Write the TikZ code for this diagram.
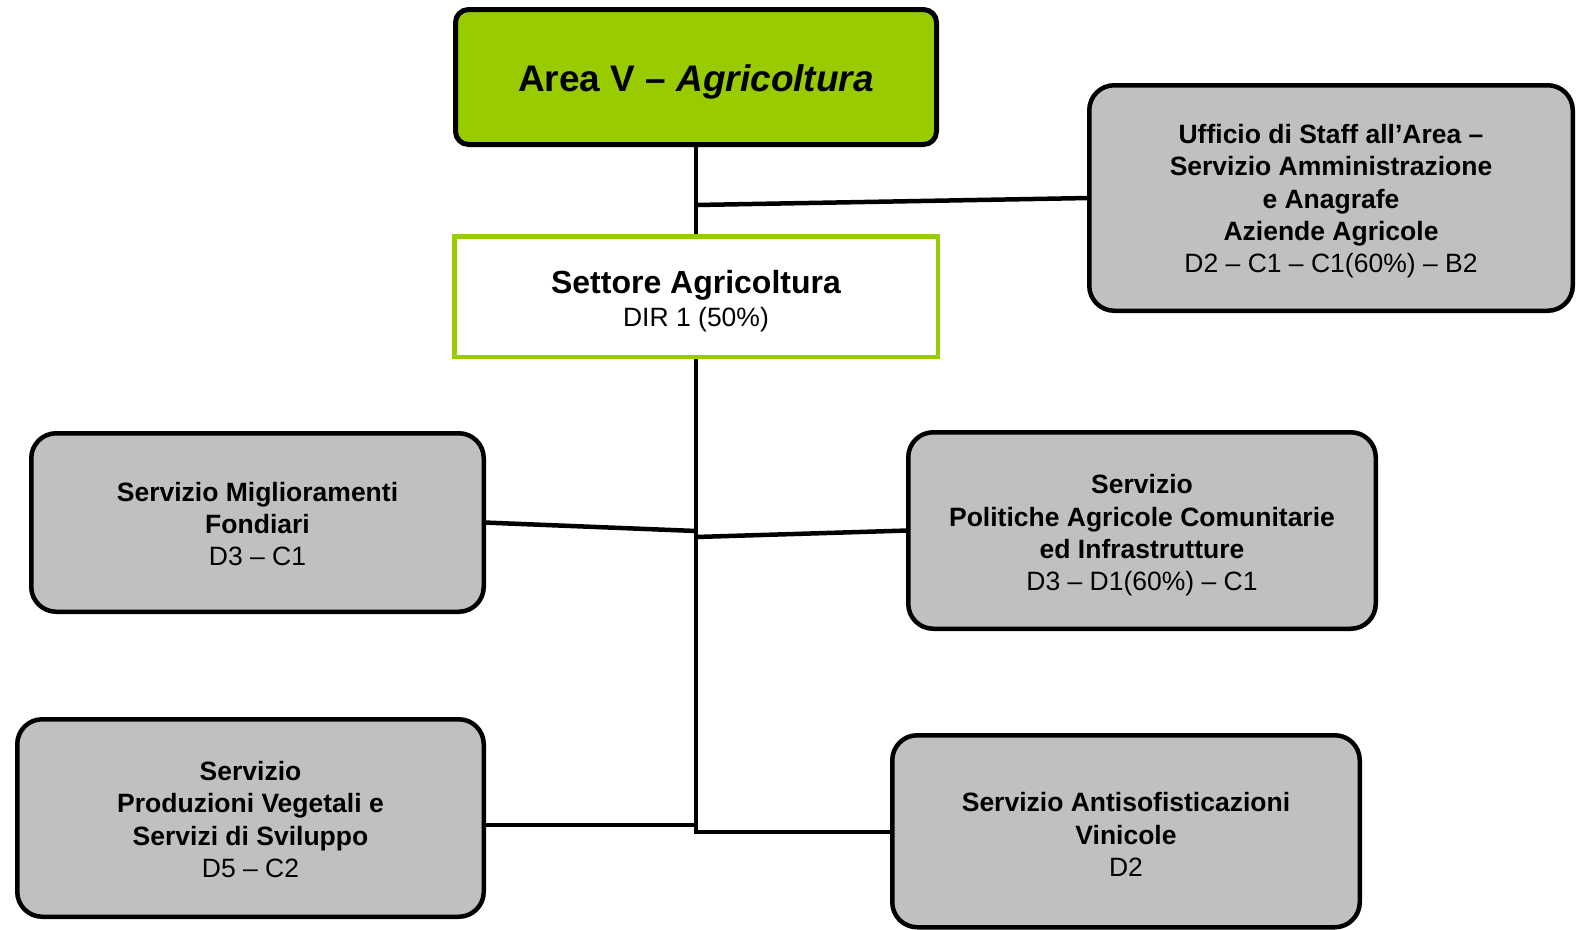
\documentclass[tikz,border=0pt]{standalone}
\usepackage{fontspec}
\setmainfont{Liberation Sans}
\usetikzlibrary{backgrounds}
\definecolor{agrgreen}{HTML}{99CC00}
\definecolor{boxgray}{HTML}{C0C0C0}
\begin{document}
\begin{tikzpicture}[x=1pt,y=-1pt,
  every node/.style={inner sep=0pt, outer sep=0pt, align=center},
  txt/.style={font=\fontsize{26.5}{32.3}\selectfont},
  lbl/.style={txt, align=center},
  grayunit/.style={draw=black, line width=4.5pt, fill=boxgray, rounded corners=25pt},
  conn/.style={draw=black, line width=4.5pt},
]
\useasboundingbox (0,0) rectangle (1579,929);

\node[draw=black, line width=5pt, fill=agrgreen, rounded corners=13pt,
      minimum width=481pt, minimum height=135pt,
      label={[font=\fontsize{37}{44}\selectfont\bfseries, yshift=-5pt]center:{Area V – \textit{Agricoltura}}}]
      (area) at (696,77) {};

\node[draw=agrgreen, line width=4.5pt, fill=white,
      minimum width=483.5pt, minimum height=120.5pt,
      label={[lbl, yshift=-4.5pt]center:{{\fontsize{32}{38}\selectfont\bfseries Settore Agricoltura}\\DIR 1 (50\%)}}]
      (settore) at (696,296.5) {};

\node[grayunit, minimum width=483.5pt, minimum height=225.5pt,
      label={[lbl, yshift=-3.3pt]center:{\textbf{Ufficio di Staff all’Area –}\\\textbf{Servizio Amministrazione}\\\textbf{e Anagrafe}\\\textbf{Aziende Agricole}\\D2 – C1 – C1(60\%) – B2}}]
      (staff) at (1331,198) {};

\node[grayunit, minimum width=452.5pt, minimum height=178.5pt,
      label={[lbl, yshift=-1.5pt]center:{\textbf{Servizio Miglioramenti}\\\textbf{Fondiari}\\D3 – C1}}]
      (migl) at (257.5,522.5) {};

\node[grayunit, minimum width=467.5pt, minimum height=196.5pt,
      label={[lbl, yshift=-5pt]center:{\textbf{Servizio}\\\textbf{Politiche Agricole Comunitarie}\\\textbf{ed Infrastrutture}\\D3 – D1(60\%) – C1}}]
      (pol) at (1142,530.5) {};

\node[grayunit, minimum width=466.5pt, minimum height=197.5pt,
      label={[lbl, yshift=-1.5pt]center:{\textbf{Servizio}\\\textbf{Produzioni Vegetali e}\\\textbf{Servizi di Sviluppo}\\D5 – C2}}]
      (prod) at (250.5,818) {};

\node[grayunit, minimum width=467.5pt, minimum height=192pt,
      label={[lbl, yshift=-3.3pt]center:{\textbf{Servizio Antisofisticazioni}\\\textbf{Vinicole}\\D2}}]
      (anti) at (1126,831.25) {};

\coordinate (t1) at (696,205);
\coordinate (t2) at (696,531);
\coordinate (t3) at (696,537);
\coordinate (t4) at (696,825);
\coordinate (t5) at (696,832);

\begin{scope}[on background layer]
\draw[conn] (area.south) -- (settore.north);
\draw[conn] (t1) -- (staff.west);
\draw[conn] (migl.east) -- (t2);
\draw[conn] (t3) -- (pol.west);
\draw[conn] (prod.east |- t4) -- (t4);
\draw[conn] (settore.south) -- (t5) -- (anti.west |- t5);
\end{scope}
\end{tikzpicture}
\end{document}
